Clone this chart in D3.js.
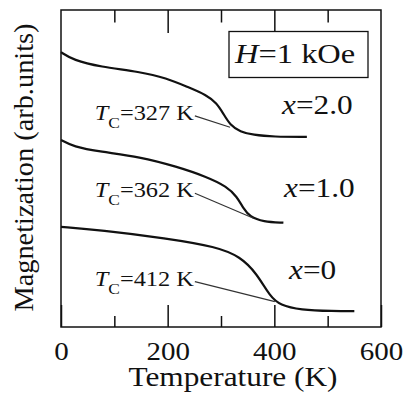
<!DOCTYPE html>
<html>
<head>
<meta charset="utf-8">
<style>
  body { margin: 0; background: white; }
  text { font-family: "Liberation Serif", "Times New Roman", serif; fill: #111; }
</style>
</head>
<body>
<script src="https://cdnjs.cloudflare.com/ajax/libs/d3/7.8.5/d3.min.js"></script>
<script>
// M(T) curves, temperature in K, magnetization in arb. units (offset per sample)
var tempX20 = [0, 23, 73, 148, 198, 236, 273, 292, 304, 317, 336, 360, 398, 461];
var magX20  = [86.7, 84.2, 82.1, 80.5, 78.5, 75.8, 73.2, 70.6, 67.4, 63.7, 61.6, 60.6, 60.0, 60.0];

var tempX10 = [0, 23, 73, 148, 217, 273, 311, 330, 342, 354, 379, 417];
var magX10  = [59.0, 56.9, 55.3, 53.7, 50.6, 47.4, 44.3, 41.1, 37.4, 34.8, 33.2, 32.9];

var tempX00 = [0, 73, 198, 292, 336, 367, 392, 411, 448, 511, 550];
var magX00  = [31.6, 30.6, 28.0, 25.3, 22.2, 16.9, 9.6, 6.9, 5.4, 5.0, 5.0];

var seriesNames = ["x=2.0", "x=1.0", "x=0"];
var tcValues = [327, 362, 412];
// leader lines: [T, M] of label end and of point on curve
var leaderFrom = [[251, 66.6], [251, 42.2], [251, 14.3]];
var leaderTo   = [[317, 63.0], [361, 34.3], [401, 8.0]];

var majorTicks = [0, 200, 400, 600];
var minorTicks = [100, 300, 500];

var W = 406, H = 399;
var mLeft = 61, mRight = 381, mTop = 10, mBottom = 327;
var SX = 1.16; // horizontal stretch of the lettering

var svg = d3.select("body").append("svg")
    .attr("width", W)
    .attr("height", H);

var x = d3.scaleLinear().domain([0, 600]).range([mLeft, mRight]);
var y = d3.scaleLinear().domain([0, 100]).range([mBottom, mTop]);

// ticks
var bottomMajor = d3.axisBottom(x).tickValues(majorTicks)
    .tickSizeInner(-22).tickSizeOuter(0).tickPadding(15)
    .tickFormat(d3.format("d"));
var bottomMinor = d3.axisBottom(x).tickValues(minorTicks)
    .tickSizeInner(-11).tickSizeOuter(0).tickFormat("");
var topMajor = d3.axisTop(x).tickValues([200, 400])
    .tickSizeInner(-23).tickSizeOuter(0).tickFormat("");
var topMinor = d3.axisTop(x).tickValues(minorTicks)
    .tickSizeInner(-12.5).tickSizeOuter(0).tickFormat("");

function styleAxis(g) {
  g.select(".domain").remove();
  g.selectAll("line").attr("stroke", "#111").attr("stroke-width", 1.5);
}

svg.append("g").attr("transform", "translate(0," + mBottom + ")")
   .call(bottomMajor).call(styleAxis)
   .attr("font-family", "Liberation Serif").attr("font-size", 25)
   .selectAll("text").attr("transform", "scale(" + SX + ",1)").attr("fill", "#111");
svg.append("g").attr("transform", "translate(0," + mBottom + ")")
   .call(bottomMinor).call(styleAxis);
svg.append("g").attr("transform", "translate(0," + mTop + ")")
   .call(topMajor).call(styleAxis);
svg.append("g").attr("transform", "translate(0," + mTop + ")")
   .call(topMinor).call(styleAxis);

// frame
svg.append("rect")
   .attr("x", mLeft).attr("y", mTop)
   .attr("width", mRight - mLeft).attr("height", mBottom - mTop)
   .attr("fill", "none").attr("stroke", "#111").attr("stroke-width", 1.5);

// curves
var line = d3.line()
    .x(function(d) { return x(d[0]); })
    .y(function(d) { return y(d[1]); })
    .curve(d3.curveBasis);

var curves = [d3.zip(tempX20, magX20), d3.zip(tempX10, magX10), d3.zip(tempX00, magX00)];
svg.selectAll("path.curve")
   .data(curves)
   .enter()
   .append("path")
   .attr("class", "curve")
   .attr("d", line)
   .attr("fill", "none")
   .attr("stroke", "#111")
   .attr("stroke-width", 2.2);

// leader lines
svg.selectAll("line.leader")
   .data(d3.range(3))
   .enter()
   .append("line")
   .attr("class", "leader")
   .attr("x1", function(i) { return x(leaderFrom[i][0]); })
   .attr("y1", function(i) { return y(leaderFrom[i][1]); })
   .attr("x2", function(i) { return x(leaderTo[i][0]); })
   .attr("y2", function(i) { return y(leaderTo[i][1]); })
   .attr("stroke", "#333")
   .attr("stroke-width", 1.2);

// Tc labels
var tcLab = svg.selectAll("g.tc")
   .data(d3.range(3))
   .enter()
   .append("g")
   .attr("class", "tc")
   .attr("transform", function(i) {
     return "translate(" + (x(leaderFrom[i][0]) - 1) + "," + (y(leaderFrom[i][1]) + 4) + ") scale(" + SX + ",1)";
   })
   .append("text")
   .attr("text-anchor", "end")
   .attr("font-size", 21);
tcLab.append("tspan").attr("font-style", "italic").text("T");
tcLab.append("tspan").attr("font-size", 15).attr("dy", 8).text("C");
tcLab.append("tspan").attr("dy", -8).text(function(i) { return "=" + tcValues[i] + " K"; });

// sample labels
var sampleY = [114, 197, 279];
var sampleX = [282, 284, 289];
var sLab = svg.selectAll("g.sample")
   .data(d3.range(3))
   .enter()
   .append("g")
   .attr("class", "sample")
   .attr("transform", function(i) { return "translate(" + sampleX[i] + "," + sampleY[i] + ") scale(" + SX + ",1)"; })
   .append("text")
   .attr("font-size", 27);
sLab.append("tspan").attr("font-style", "italic").text("x");
sLab.append("tspan").text(function(i) { return seriesNames[i].slice(1); });

// field box
svg.append("rect")
   .attr("x", 229).attr("y", 31.5)
   .attr("width", 139).attr("height", 46)
   .attr("fill", "white").attr("stroke", "#111").attr("stroke-width", 1.3);
var hText = svg.append("g")
   .attr("transform", "translate(235,63) scale(" + SX + ",1)")
   .append("text").attr("font-size", 28);
hText.append("tspan").attr("font-style", "italic").text("H");
hText.append("tspan").text("=1 kOe");

// axis titles
svg.append("g")
   .attr("transform", "translate(233,386) scale(" + SX + ",1)")
   .append("text")
   .attr("text-anchor", "middle")
   .attr("font-size", 27)
   .text("Temperature (K)");

svg.append("g")
   .attr("transform", "translate(33,167.5) rotate(-90) scale(1.05,1)")
   .append("text")
   .attr("text-anchor", "middle")
   .attr("font-size", 27)
   .text("Magnetization (arb.units)");
</script>
</body>
</html>
